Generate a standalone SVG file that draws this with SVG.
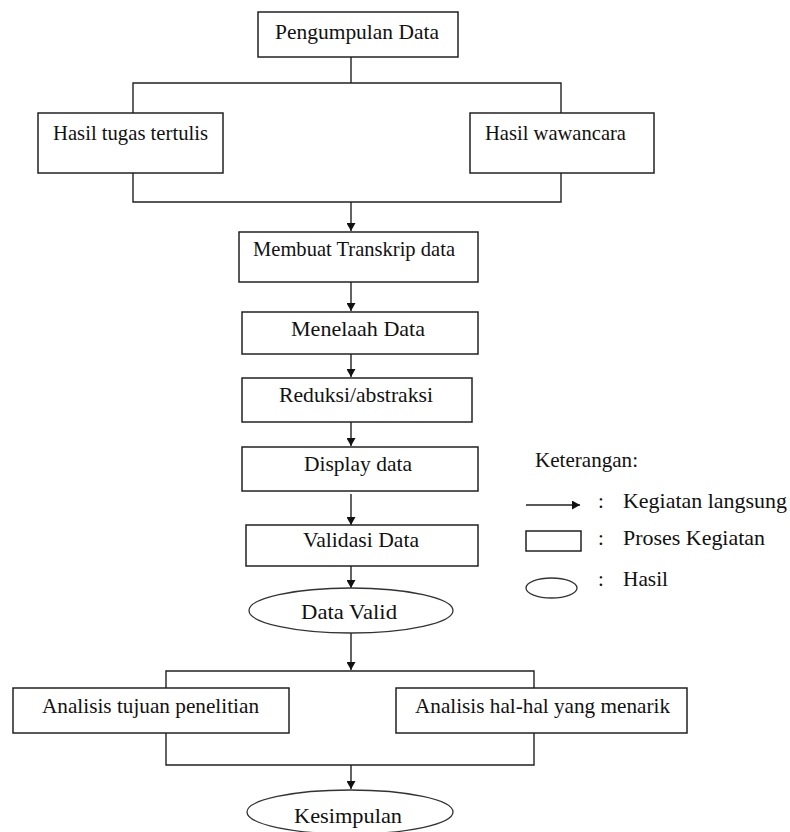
<svg xmlns="http://www.w3.org/2000/svg" width="790" height="832" viewBox="0 0 790 832">
<style>
.box{fill:#fff;stroke:#222;stroke-width:1.5}
.ell{fill:#fff;stroke:#333;stroke-width:1.3}
.ln{fill:none;stroke:#222;stroke-width:1.4}
text{font-family:"Liberation Serif","Times New Roman",serif;font-size:21px;fill:#111}
</style>
<defs>
<marker id="ah" markerWidth="8" markerHeight="9" refX="8" refY="4.5" orient="auto" markerUnits="userSpaceOnUse">
<path d="M0,0 L8,4.5 L0,9 Z" fill="#111"/>
</marker>
</defs>
<rect width="790" height="832" fill="#fff"/>
<g id="connectors">
<path class="ln" d="M351,57 V83 M133,113 V83 H561 V113"/>
<path class="ln" d="M133,173 V202 H561 V173"/>
<path class="ln" d="M351,202 V231" marker-end="url(#ah)"/>
<path class="ln" d="M351,282 V311" marker-end="url(#ah)"/>
<path class="ln" d="M351,354 V377" marker-end="url(#ah)"/>
<path class="ln" d="M351,422 V446" marker-end="url(#ah)"/>
<path class="ln" d="M351,494 V525" marker-end="url(#ah)"/>
<path class="ln" d="M351,566 V588" marker-end="url(#ah)"/>
<path class="ln" d="M351,633 V670" marker-end="url(#ah)"/>
<path class="ln" d="M166,688 V671 H534 V688"/>
<path class="ln" d="M166,733 V765 H534 V733"/>
<path class="ln" d="M351,765 V789" marker-end="url(#ah)"/>
</g>
<g id="n-pengumpulan"><rect class="box" x="258" y="12" width="200" height="45"/><text x="275" y="39" textLength="164" lengthAdjust="spacingAndGlyphs">Pengumpulan Data</text></g>
<g id="n-tugas"><rect class="box" x="38" y="113" width="185" height="60"/><text x="53" y="140" textLength="155" lengthAdjust="spacingAndGlyphs">Hasil tugas tertulis</text></g>
<g id="n-wawancara"><rect class="box" x="470" y="113" width="184" height="60"/><text x="485" y="140" textLength="141" lengthAdjust="spacingAndGlyphs">Hasil wawancara</text></g>
<g id="n-transkrip"><rect class="box" x="239" y="232" width="239" height="50"/><text x="253" y="256" textLength="202" lengthAdjust="spacingAndGlyphs">Membuat Transkrip data</text></g>
<g id="n-menelaah"><rect class="box" x="242" y="312" width="236" height="42"/><text x="291" y="336" textLength="134" lengthAdjust="spacingAndGlyphs">Menelaah Data</text></g>
<g id="n-reduksi"><rect class="box" x="242" y="378" width="230" height="44"/><text x="279" y="402" textLength="154" lengthAdjust="spacingAndGlyphs">Reduksi/abstraksi</text></g>
<g id="n-display"><rect class="box" x="242" y="447" width="236" height="44"/><text x="304" y="471" textLength="108" lengthAdjust="spacingAndGlyphs">Display data</text></g>
<g id="n-validasi"><rect class="box" x="246" y="525" width="232" height="41"/><text x="303" y="547" textLength="116" lengthAdjust="spacingAndGlyphs">Validasi Data</text></g>
<g id="n-datavalid"><ellipse class="ell" cx="351" cy="610.5" rx="102" ry="22.5"/><text x="301" y="619" textLength="96" lengthAdjust="spacingAndGlyphs">Data Valid</text></g>
<g id="n-tujuan"><rect class="box" x="13" y="688" width="276" height="45"/><text x="42" y="713" textLength="217" lengthAdjust="spacingAndGlyphs">Analisis tujuan penelitian</text></g>
<g id="n-menarik"><rect class="box" x="396" y="688" width="291" height="45"/><text x="415" y="713" textLength="255" lengthAdjust="spacingAndGlyphs">Analisis hal-hal yang menarik</text></g>
<g id="n-kesimpulan"><ellipse class="ell" cx="350" cy="812" rx="103" ry="22"/><text x="294" y="823" textLength="108" lengthAdjust="spacingAndGlyphs">Kesimpulan</text></g>
<g id="legend">
<text x="535" y="467" textLength="103" lengthAdjust="spacingAndGlyphs">Keterangan:</text>
<path class="ln" d="M526,505 H580" marker-end="url(#ah)"/>
<text x="598" y="508">:</text>
<text x="623" y="508" textLength="164" lengthAdjust="spacingAndGlyphs">Kegiatan langsung</text>
<rect class="box" x="526" y="531" width="55" height="20"/>
<text x="598" y="545">:</text>
<text x="623" y="545" textLength="142" lengthAdjust="spacingAndGlyphs">Proses Kegiatan</text>
<ellipse class="ell" cx="551.5" cy="588" rx="25.5" ry="10"/>
<text x="598" y="586">:</text>
<text x="623" y="586" textLength="45" lengthAdjust="spacingAndGlyphs">Hasil</text>
</g>
</svg>
